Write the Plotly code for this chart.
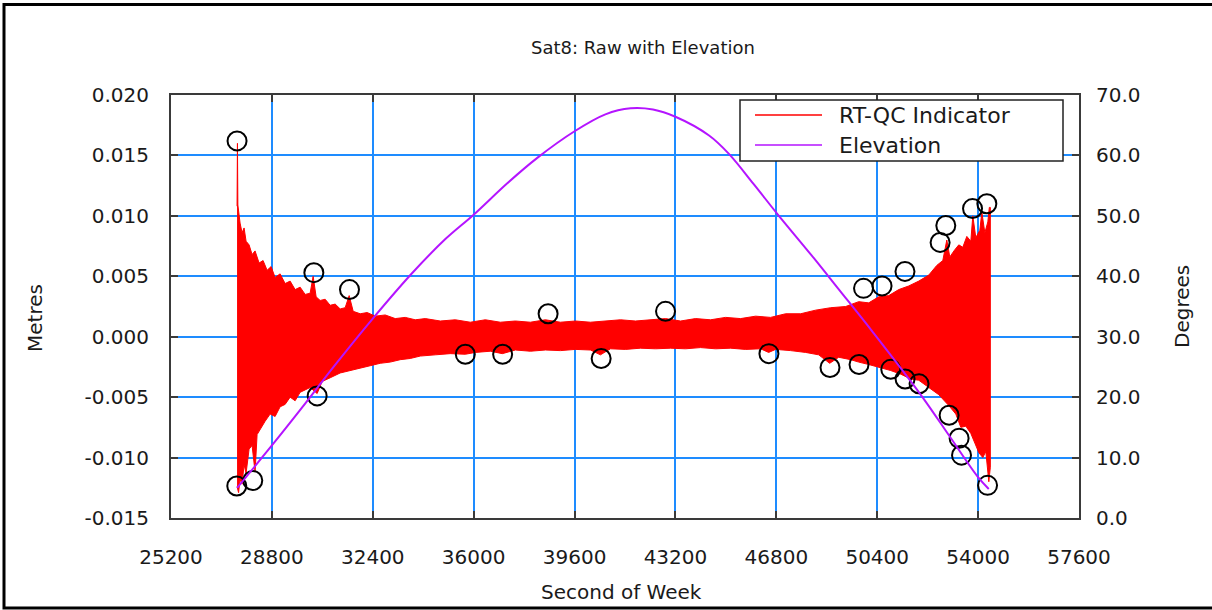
import plotly.graph_objects as go

# ---------------- data ----------------
x_ticks = [25200, 28800, 32400, 36000, 39600, 43200, 46800, 50400, 54000, 57600]
y_ticks = [-0.015, -0.010, -0.005, 0.000, 0.005, 0.010, 0.015, 0.020]
y_tick_labels = ["-0.015", "-0.010", "-0.005", "0.000", "0.005", "0.010", "0.015", "0.020"]
y2_ticks = [0, 10, 20, 30, 40, 50, 60, 70]
y2_tick_labels = ["0.0", "10.0", "20.0", "30.0", "40.0", "50.0", "60.0", "70.0"]

# RT-QC indicator: upper / lower envelope of the dense red trace (seconds, millimetres)
rtqc_upper_t = [27557, 27571, 27586, 27665, 27736, 27808, 27879, 27986, 28093, 28200,
                28343, 28486, 28629, 28772, 28915, 29093, 29272, 29451, 29629, 29808,
                29987, 30165, 30272, 30379, 30522, 30701, 30879, 31058, 31237, 31415,
                31558, 31701, 31951, 32201, 32487, 32844, 33201, 33558, 33916, 34273,
                34809, 35345, 35880, 36416, 36952, 37488, 38023, 38559, 39095, 39631,
                40167, 40702, 41238, 41774, 42310, 42846, 43381, 43917, 44453, 44989,
                45525, 46060, 46596, 47132, 47668, 48204, 48739, 49275, 49739, 50097,
                50454, 50811, 51168, 51525, 51882, 52240, 52525, 52740, 52883, 52990,
                53169, 53311, 53454, 53597, 53740, 53811, 53918, 54061, 54133, 54240,
                54347, 54400, 54436]
rtqc_upper_mm = [10.8, 16.0, 10.9, 9.4, 8.6, 9.0, 7.9, 7.6, 6.8, 7.1,
                 6.1, 6.3, 5.5, 5.8, 4.9, 5.2, 4.4, 4.6, 3.9, 4.1,
                 3.5, 3.6, 5.0, 3.3, 3.0, 3.1, 2.6, 2.7, 2.3, 2.4,
                 3.4, 2.1, 1.9, 2.0, 1.7, 1.8, 1.5, 1.6, 1.4, 1.5,
                 1.3, 1.4, 1.2, 1.4, 1.2, 1.3, 1.2, 1.4, 1.2, 1.3,
                 1.2, 1.3, 1.4, 1.3, 1.4, 1.5, 1.3, 1.5, 1.4, 1.6,
                 1.5, 1.7, 1.6, 1.9, 1.9, 2.2, 2.4, 2.5, 2.9, 2.8,
                 3.3, 3.4, 3.9, 4.2, 4.6, 5.1, 5.9, 6.3, 8.0, 6.6,
                 7.2, 7.6, 7.4, 8.3, 7.9, 10.0, 8.2, 8.8, 10.3, 8.6,
                 9.5, 10.7, 10.7]
rtqc_lower_t = [27557, 27611, 27665, 27736, 27808, 27879, 27986, 28093, 28200, 28272,
                28415, 28557, 28736, 28915, 29093, 29272, 29451, 29629, 29808, 29987,
                30165, 30415, 30594, 30879, 31237, 31594, 31951, 32308, 32665, 33022,
                33380, 33737, 34094, 34630, 35166, 35702, 36059, 36595, 37024, 37488,
                38023, 38559, 39095, 39631, 40167, 40524, 40881, 41417, 41952, 42488,
                43024, 43560, 44095, 44631, 45167, 45703, 46239, 46525, 46775, 47310,
                47846, 48311, 48704, 49025, 49454, 49739, 50097, 50454, 50883, 51240,
                51597, 51882, 52240, 52597, 52954, 53204, 53383, 53561, 53740, 53883,
                54026, 54168, 54275, 54382, 54436]
rtqc_lower_mm = [-12.4, -12.9, -11.8, -12.2, -10.6, -11.3, -9.3, -9.0, -11.2, -8.1,
                 -7.6, -7.0, -6.4, -6.6, -5.8, -5.6, -5.0, -5.3, -4.6, -4.4,
                 -4.2, -4.7, -3.7, -3.4, -3.0, -2.8, -2.6, -2.4, -2.2, -2.1,
                 -1.9, -1.8, -1.6, -1.5, -1.4, -1.45, -1.3, -1.2, -1.4, -1.1,
                 -1.2, -1.1, -1.15, -1.05, -1.1, -1.5, -1.0, -1.05, -0.95, -1.0,
                 -0.95, -1.0, -0.9, -1.0, -0.95, -1.05, -1.0, -1.3, -1.05, -1.15,
                 -1.3, -1.5, -2.2, -1.7, -1.9, -2.1, -2.3, -2.5, -2.8, -3.1,
                 -3.5, -3.6, -4.2, -4.8, -5.7, -6.4, -7.5, -7.4, -8.0, -8.8,
                 -9.6, -10.0, -9.5, -12.0, -10.8]

# Elevation (seconds, degrees)
elev_t = [27560, 28800, 30000, 31000, 32400, 33800, 35000, 36000, 37200, 38270,
          39600, 40700, 41600, 42400, 43200, 44400, 45100, 46000, 46840, 48140,
          49000, 50270, 52000, 53000, 53990, 54380]
elev_deg = [5.0, 12.0, 19.0, 25.0, 33.0, 40.5, 46.2, 50.2, 55.4, 59.6,
            64.0, 66.8, 67.8, 67.6, 66.4, 63.3, 60.3, 55.2, 50.3, 43.0,
            38.0, 30.6, 20.1, 13.4, 6.8, 4.8]

# Flagged points (circles)
flag_t = [27547, 27557, 28118, 30297, 30415, 31569, 35702, 37034, 38656, 40549,
          42846, 46536, 48715, 49751, 49911, 50572, 50883, 51390, 51394, 51893,
          52644, 52847, 52965, 53322, 53408, 53801, 54312, 54337]
flag_m = [-0.01235, 0.0162, -0.0119, 0.0053, -0.0049, 0.0039, -0.00145, -0.00145, 0.0019, -0.0018,
          0.0021, -0.0014, -0.00255, -0.0023, 0.0040, 0.0042, -0.0027, 0.0054, -0.0035, -0.0039,
          0.0078, 0.0092, -0.0065, -0.0084, -0.0098, 0.0106, 0.0110, -0.0123]

# ---------------- figure ----------------
RED = "#FF0000"
PURPLE = "#B414FF"
GRID = "#1E8CFF"
AXC = "#3A3A3A"
FONT = "DejaVu Sans"
TXT = "#1a1a1a"

poly_t = rtqc_upper_t + rtqc_lower_t[::-1]
poly_v = [v / 1000.0 for v in rtqc_upper_mm] + [v / 1000.0 for v in rtqc_lower_mm[::-1]]

fig = go.Figure()
fig.add_trace(go.Scatter(x=poly_t, y=poly_v, mode="lines", fill="toself",
                         fillcolor=RED, line=dict(color=RED, width=1),
                         name="RT-QC Indicator", showlegend=False, hoverinfo="skip"))
fig.add_trace(go.Scatter(x=elev_t, y=elev_deg, mode="lines", yaxis="y2",
                         line=dict(color=PURPLE, width=2, shape="spline", smoothing=1.0),
                         name="Elevation", showlegend=False))
fig.add_trace(go.Scatter(x=flag_t, y=flag_m, mode="markers",
                         marker=dict(symbol="circle-open", size=19, color="black",
                                     line=dict(width=2, color="black")),
                         showlegend=False))

W, H = 1212, 610
L, R, T, B = 171, 133, 95, 92
pw, ph = W - L - R, H - T - B


def px(xp):
    return (xp - L) / pw


def py(yp):
    return (H - B - yp) / ph


axis_common = dict(showline=True, linecolor=AXC, linewidth=2, ticks="inside",
                   ticklen=7, tickwidth=2, tickcolor=AXC, showgrid=True,
                   gridcolor=GRID, gridwidth=2, zeroline=False,
                   tickfont=dict(family=FONT, size=20, color=TXT))

fig.update_layout(
    width=W, height=H,
    margin=dict(l=L, r=R, t=T, b=B, pad=0),
    paper_bgcolor="white", plot_bgcolor="white",
    showlegend=False,
    xaxis=dict(range=[25200, 57600], tickvals=x_ticks,
               ticktext=[str(v) for v in x_ticks], mirror="ticks",
               ticklabelstandoff=20, **axis_common),
    yaxis=dict(range=[-0.015, 0.020], tickvals=y_ticks, ticktext=y_tick_labels,
               ticklabelstandoff=16, **axis_common),
    yaxis2=dict(range=[0, 70], tickvals=y2_ticks, ticktext=y2_tick_labels,
                overlaying="y", side="right", ticklabelstandoff=11,
                **{**axis_common, "showgrid": False}),
)

# frame around the picture
fig.add_shape(type="rect", xref="paper", yref="paper",
              x0=px(4), x1=px(1220), y0=py(608), y1=py(4.5),
              line=dict(color="black", width=3), layer="above")


def label(text, x, y, size, angle=0, xanchor="center"):
    fig.add_annotation(text=text, xref="paper", yref="paper", x=px(x), y=py(y),
                       xanchor=xanchor, yanchor="middle", showarrow=False,
                       textangle=angle, font=dict(family=FONT, size=size, color=TXT))


label("Sat8: Raw with Elevation", 643, 47, 18)
label("Second of Week", 621, 592, 20)
label("Metres", 35, 318, 20, angle=-90)
label("Degrees", 1182, 307, 20, angle=-90)

# legend box
fig.add_shape(type="rect", xref="paper", yref="paper",
              x0=px(740), x1=px(1063), y0=py(161), y1=py(100),
              line=dict(color="#222222", width=1.5), fillcolor="white", layer="above")
legend_items = [("RT-QC Indicator", RED, 115), ("Elevation", PURPLE, 145)]
for name, col, yy in legend_items:
    fig.add_shape(type="line", xref="paper", yref="paper",
                  x0=px(755), x1=px(822), y0=py(yy), y1=py(yy),
                  line=dict(color=col, width=1.5), layer="above")
    label(name, 837, yy + 1, 22, xanchor="left")

fig.write_html("out.html", config={"displayModeBar": False},
               post_script="document.body.style.margin='0';")
